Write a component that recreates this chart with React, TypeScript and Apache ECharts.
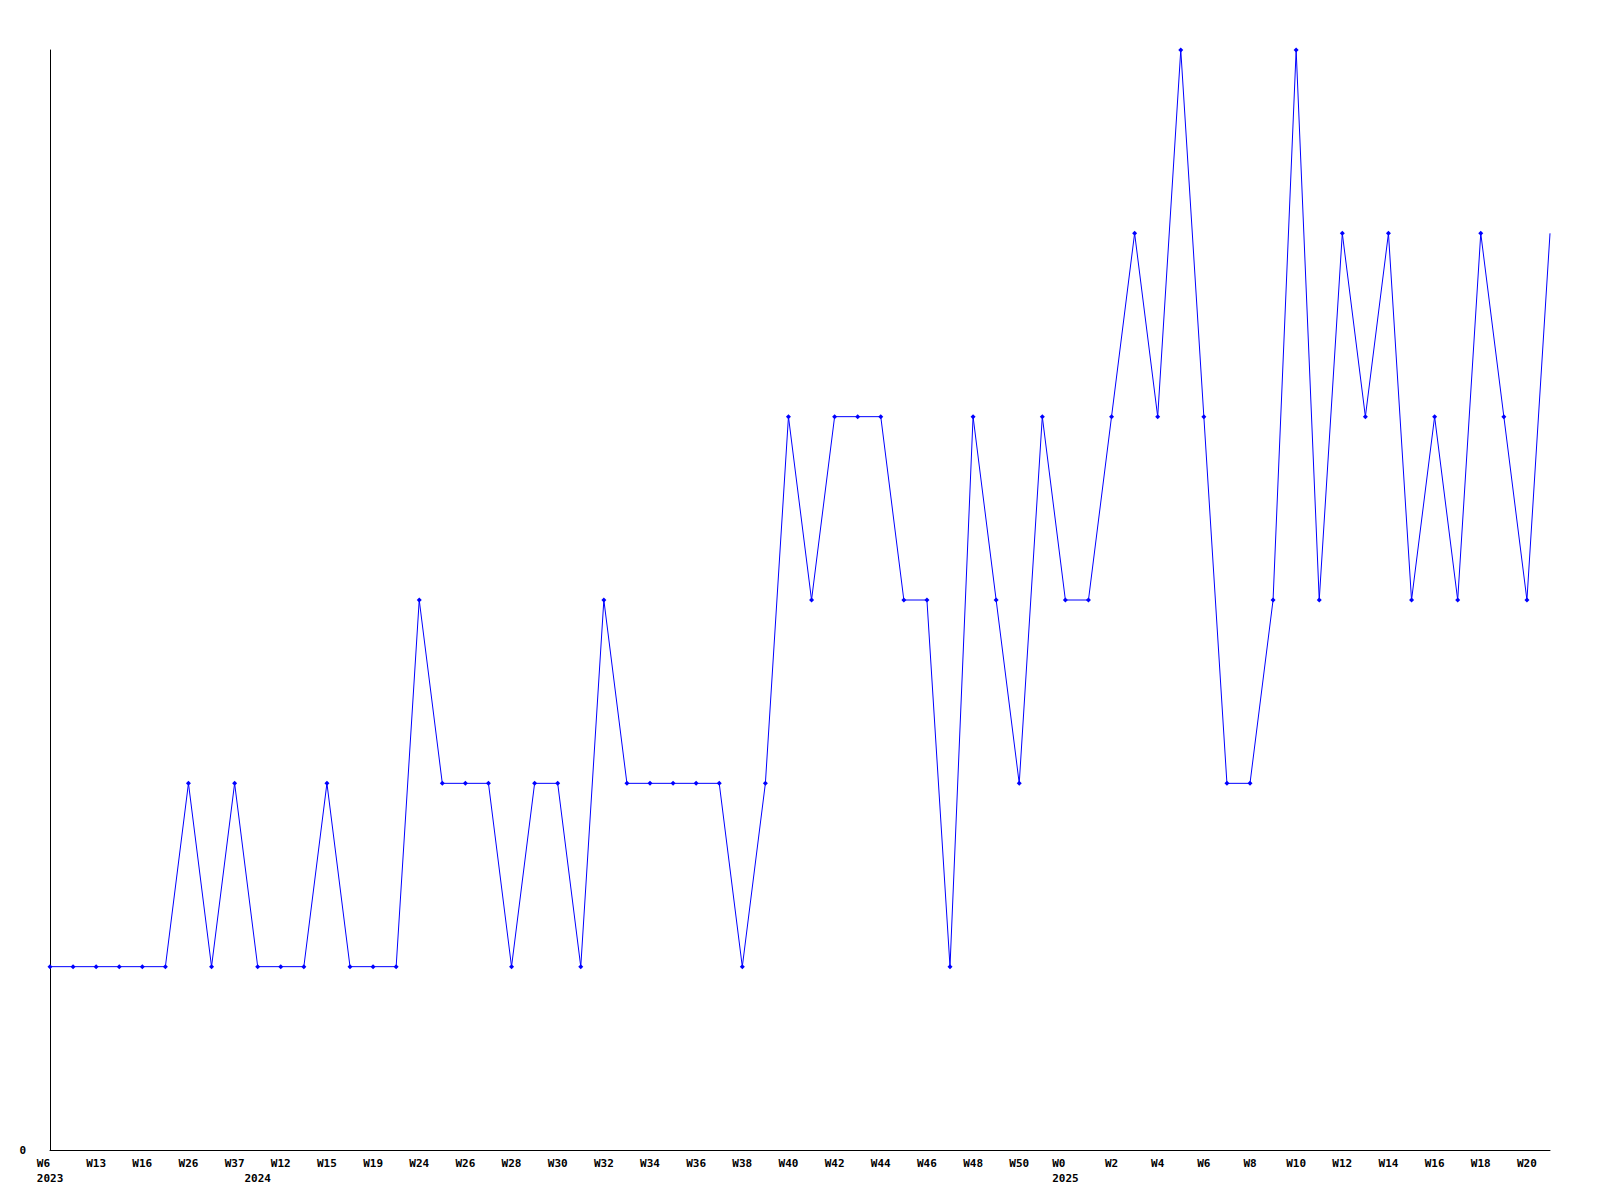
import React, { useEffect, useRef } from "react";
import * as echarts from "echarts";

const weeks: string[] = [
  "W6", "W10", "W13", "W14", "W16", "W20", "W26", "W31", "W37", "W5",
  "W12", "W13", "W15", "W17", "W19", "W22", "W24", "W25", "W26", "W27",
  "W28", "W29", "W30", "W31", "W32", "W33", "W34", "W35", "W36", "W37",
  "W38", "W39", "W40", "W41", "W42", "W43", "W44", "W45", "W46", "W47",
  "W48", "W49", "W50", "W51", "W0", "W1", "W2", "W3", "W4", "W5",
  "W6", "W7", "W8", "W9", "W10", "W11", "W12", "W13", "W14", "W15",
  "W16", "W17", "W18", "W19", "W20", "W21",
];

// year shown under the first week of each year (by category index)
const yearMarks: Record<number, string> = { 0: "2023", 9: "2024", 44: "2025" };

const values: number[] = [
  1, 1, 1, 1, 1, 1, 2, 1, 2, 1,
  1, 1, 2, 1, 1, 1, 3, 2, 2, 2,
  1, 2, 2, 1, 3, 2, 2, 2, 2, 2,
  1, 2, 4, 3, 4, 4, 4, 3, 3, 1,
  4, 3, 2, 4, 3, 3, 4, 5, 4, 6,
  4, 2, 2, 3, 6, 3, 5, 4, 5, 3,
  4, 3, 5, 4, 3, 5,
];

const yTicks = { min: 0, max: 6, interval: 1 };

export default function App() {
  const ref = useRef<HTMLDivElement>(null);
  useEffect(() => {
    document.body.style.margin = "0";
    const chart = echarts.init(ref.current!, null, { renderer: "svg" });
    const font = "DejaVu Sans Mono";
    const txt = {
      color: "#000",
      fontFamily: font,
      fontWeight: "bold",
      fontSize: 11,
      lineHeight: 15,
    };
    const seriesData = values.map((v, i) =>
      i === values.length - 1 ? { value: v, symbol: "none" } : v
    );
    chart.setOption({
      animation: false,
      backgroundColor: "#ffffff",
      grid: { left: 50, right: 50, top: 50, bottom: 50, containLabel: false },
      xAxis: {
        type: "category",
        data: weeks,
        boundaryGap: false,
        axisLine: { show: true, lineStyle: { color: "#000", width: 1 } },
        axisTick: { show: false },
        splitLine: { show: false },
        axisLabel: {
          interval: (i: number) => i % 2 === 0 || yearMarks[i] !== undefined,
          margin: 6,
          ...txt,
          formatter: (v: string, i: number) => {
            const y = yearMarks[i];
            if (!y) return v;
            if (i % 2 === 0) return `{l|${v}}\n{l|${y}}`;
            return ` \n${y}`;
          },
          rich: {
            l: { ...txt, align: "left" },
          },
        },
      },
      yAxis: {
        type: "value",
        min: yTicks.min,
        max: yTicks.max,
        interval: yTicks.interval,
        axisLine: { show: true, lineStyle: { color: "#000", width: 1 } },
        axisTick: { show: false },
        splitLine: { show: false },
        axisLabel: {
          margin: 24,
          color: "#000",
          fontFamily: font,
          fontWeight: "bold",
          fontSize: 11,
          formatter: (v: number) => (v === 0 ? "0" : ""),
        },
      },
      series: [
        {
          type: "line",
          data: seriesData,
          symbol: "diamond",
          symbolSize: 5,
          showAllSymbol: true,
          lineStyle: { color: "#0000ff", width: 1 },
          itemStyle: { color: "#0000ff" },
        },
      ],
    });
    return () => chart.dispose();
  }, []);
  return <div ref={ref} style={{ width: 1600, height: 1200 }} />;
}
